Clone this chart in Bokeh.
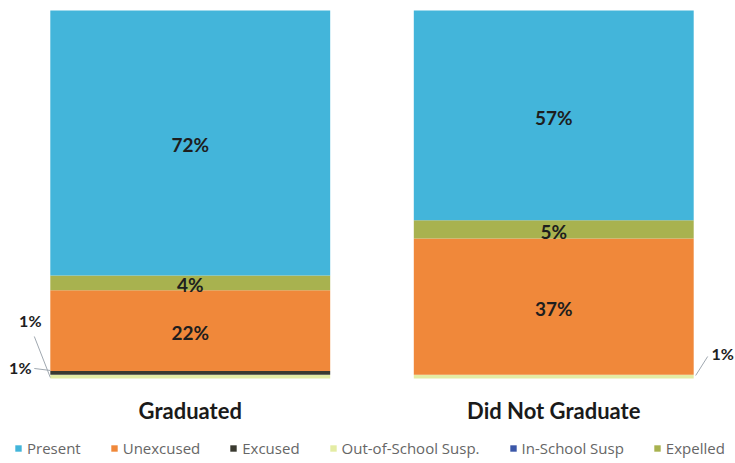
from bokeh.plotting import figure
from bokeh.models import Range1d, Legend, LegendItem, ColumnDataSource
from bokeh.embed import file_html
from bokeh.resources import INLINE
from bokeh.core.properties import value

cats = ["Graduated", "Did Not Graduate"]
present = [72, 57]
expelled = [4, 5]
unexcused = [22, 37]
in_school = [0, 0]
excused = [1, 0]
out_school = [1, 1]

series = ["Out-of-School Susp.", "Excused", "In-School Susp", "Unexcused", "Expelled", "Present"]
colors = {"Present": "#43b5da", "Unexcused": "#f0883a", "Excused": "#3a3a30",
          "Out-of-School Susp.": "#e4eca4", "In-School Susp": "#3b57a8", "Expelled": "#a8b24f"}
legend_order = ["Present", "Unexcused", "Excused", "Out-of-School Susp.", "In-School Susp", "Expelled"]

xpos = [i + 0.5 for i in range(len(cats))]
data = {"x": xpos, "cat": cats, "Present": present, "Expelled": expelled, "Unexcused": unexcused,
        "In-School Susp": in_school, "Excused": excused, "Out-of-School Susp.": out_school}
src = ColumnDataSource(data)

W, H = 735, 463
BW = 0.77
Y0, Y1 = -23.1, 102.7
p = figure(x_range=Range1d(0, 2), y_range=Range1d(Y0, Y1),
           width=W, height=H, output_backend="svg", toolbar_location=None,
           min_border_left=8, min_border_right=0, min_border_top=0, min_border_bottom=0)
p.outline_line_color = None
p.background_fill_color = "white"
p.border_fill_color = "white"
p.grid.visible = False
p.xaxis.visible = False
p.yaxis.visible = False

rs = p.vbar_stack(series, x="x", width=BW, source=src,
                  color=[colors[s] for s in series], line_color=None)
rmap = dict(zip(series, rs))

# category labels
p.text(x=xpos, y=[-8.7] * len(cats), text=cats, text_align="center", text_baseline="middle",
       text_font=value("Lato"), text_font_style="bold", text_font_size="22px", text_color="#1a1a1a")

# main segment labels
lx, ly, lt = [], [], []
for i in range(len(cats)):
    base = out_school[i] + excused[i] + in_school[i]
    for vals in (unexcused, expelled, present):
        v = vals[i]
        lx.append(xpos[i]); ly.append(base + v / 2.0 - 0.5); lt.append(f"{v}%")
        base += v
p.text(x=lx, y=ly, text=lt, text_align="center", text_baseline="middle",
       text_font=value("Lato"), text_font_style="bold", text_font_size="19px", text_color="#1e1e1e")

# small segment labels with leader lines
sx = (W - 8) / 2.0
sy = H / (Y1 - Y0)
g_left = xpos[0] - BW / 2
d_right = xpos[1] + BW / 2

def px(dx):
    return dx / sx

def py(dy):
    return dy / sy

small_x = [g_left + px(-20), g_left + px(-30), d_right + px(29)]
small_y = [py(58), py(11), py(25)]
small_t = [f"{excused[0]}%", f"{out_school[0]}%", f"{out_school[1]}%"]
p.text(x=small_x, y=small_y, text=small_t, text_align="center", text_baseline="middle",
       text_font=value("Lato"), text_font_style="bold", text_font_size="16px", text_color="#1e1e1e")
p.segment(x0=[g_left + px(-16), g_left + px(-16), d_right + px(2)],
          y0=[py(42), py(10), py(3)],
          x1=[g_left, g_left, d_right + px(14)],
          y1=[py(1), py(8), py(22)],
          line_color="#a0a8b0", line_width=1)

items = [LegendItem(label=s, renderers=[rmap[s]]) for s in legend_order]
leg = Legend(items=items, orientation="horizontal", location=(6, 5),
             label_text_font="Open Sans", label_text_font_size="15px",
             label_text_color="#666666", glyph_width=8, glyph_height=8,
             label_standoff=5, spacing=29, padding=2, margin=0,
             border_line_color=None, background_fill_alpha=0)
p.add_layout(leg)

open("out.html", "w").write(file_html(p, INLINE))
